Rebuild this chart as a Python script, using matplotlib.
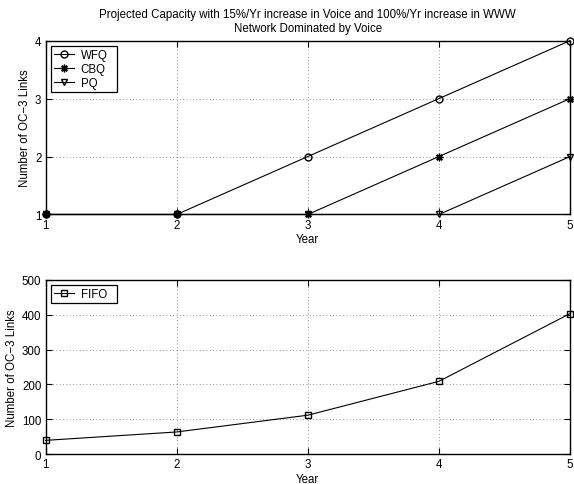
import matplotlib
matplotlib.use("Agg")
import matplotlib.pyplot as plt

plt.rcParams['font.family'] = ['Liberation Sans', 'DejaVu Sans']

years = [1, 2, 3, 4, 5]
wfq = [1, 1, 2, 3, 4]
cbq = [1, 1, 1, 2, 3]
pq = [1, 1, 1, 1, 2]
fifo = [40, 64, 112, 209, 403]

title = "Projected Capacity with 15%/Yr increase in Voice and 100%/Yr increase in WWW\nNetwork Dominated by Voice"
ylabel = "Number of OC\u22123 Links"
xlabel = "Year"

fig = plt.figure(figsize=(5.74, 4.85), dpi=100)
ax1 = fig.add_axes([0.0793, 0.5557, 0.9138, 0.3584])
ax2 = fig.add_axes([0.0793, 0.0612, 0.9138, 0.3600])

fs = 8.3
for ax in (ax1, ax2):
    ax.grid(True, linestyle=(0, (1, 3)), color='black', linewidth=0.6, alpha=0.55)
    ax.tick_params(direction='in', labelsize=fs, length=4, width=0.8, top=True, right=True, pad=3)
    for s in ax.spines.values():
        s.set_linewidth(1.0)
    ax.set_xlim(1, 5)
    ax.set_xticks(years)
    ax.set_xlabel(xlabel, fontsize=fs, labelpad=2)
    ax.set_ylabel(ylabel, fontsize=fs, labelpad=3)

kw = dict(color='black', linewidth=0.8, clip_on=False)
ax1.plot(years, wfq, marker='o', markerfacecolor='none', markersize=5, label='WFQ', **kw)
ax1.plot(years, cbq, marker=(8, 2, 0), markersize=5.5, markeredgewidth=1.0, label='CBQ', **kw)
ax1.plot(years, pq, marker='v', markerfacecolor='none', markersize=5, label='PQ', **kw)
ax1.set_ylim(1, 4)
ax1.set_yticks([1, 2, 3, 4])
ax1.set_title(title, fontsize=fs, pad=7, linespacing=1.2)

legkw = dict(loc='upper left', fontsize=fs, frameon=True, fancybox=False,
             edgecolor='black', framealpha=1, handlelength=1.75, handletextpad=0.55,
             borderaxespad=0.5, borderpad=0.25, mode='expand')
leg1 = ax1.legend(bbox_to_anchor=(0, 0, 0.148, 1), labelspacing=0.15, **legkw)
leg1.get_frame().set_linewidth(0.9)

ax2.plot(years, fifo, marker='s', markerfacecolor='none', markersize=5, label='FIFO', **kw)
ax2.set_ylim(0, 500)
ax2.set_yticks([0, 100, 200, 300, 400, 500])
leg2 = ax2.legend(bbox_to_anchor=(0, 0, 0.148, 1), **legkw)
leg2.get_frame().set_linewidth(0.9)

fig.savefig('out.png', dpi=100)
